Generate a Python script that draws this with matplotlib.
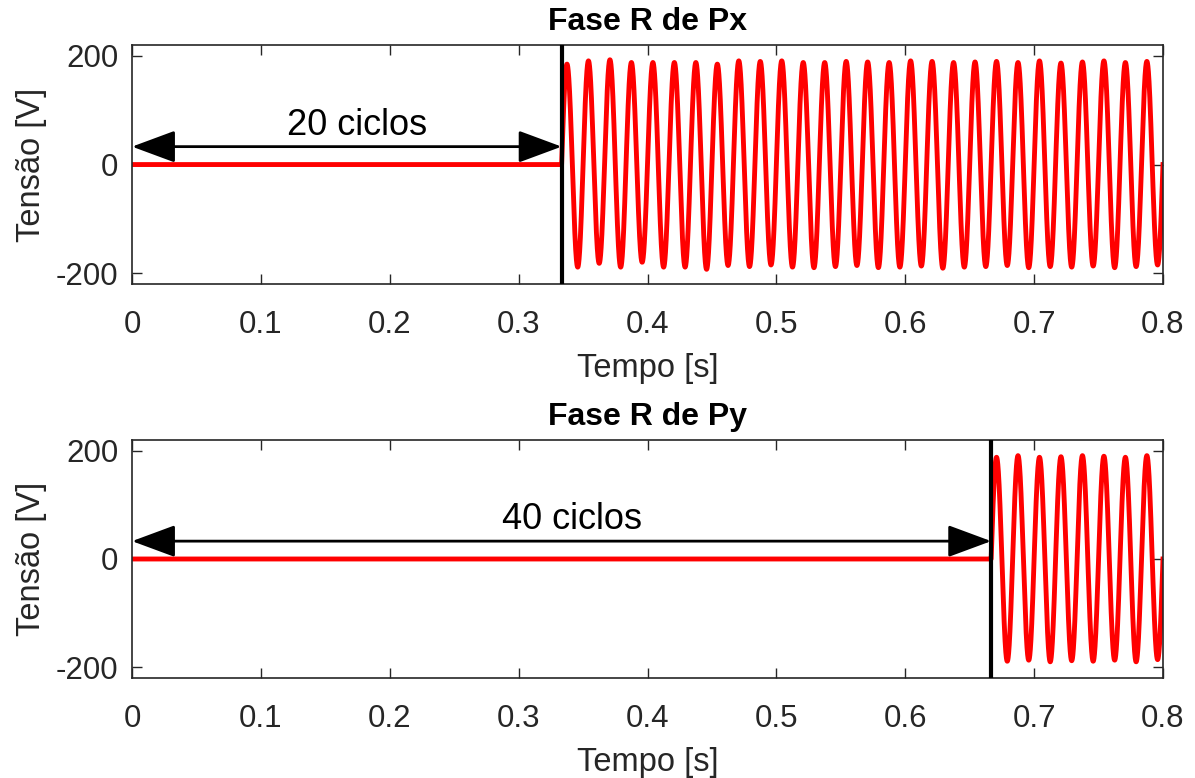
import numpy as np
import matplotlib.pyplot as plt

plt.rcParams['font.family'] = ['Liberation Sans', 'DejaVu Sans']
plt.rcParams['axes.unicode_minus'] = False

# dados
f_rede = 60.0          # Hz
t_fim = 0.8            # s
ciclos_px = 20         # atraso de Px em ciclos
ciclos_py = 40         # atraso de Py em ciclos
# picos positivos / negativos de cada ciclo apos a entrada [V]
pico_pos_px = [185, 191, 193, 188, 188, 188, 188, 185, 191, 190, 191, 188, 188, 190,
               189, 188, 191, 190, 188, 189, 190, 188, 191, 187, 189, 191, 188, 190]
pico_neg_px = [189, 182, 189, 180, 189, 189, 193, 186, 188, 185, 189, 190, 188, 186,
               190, 189, 187, 191, 189, 188, 186, 190, 188, 189, 187, 190, 188, 185]
pico_pos_py = [188, 191, 188, 189, 191, 190, 188, 191]
pico_neg_py = [189, 187, 190, 188, 189, 187, 190, 186]

titulos = ['Fase R de Px', 'Fase R de Py']
rotulos = ['20 ciclos', '40 ciclos']


def sinal(ciclos_atraso, pico_pos, pico_neg, n=20000):
    t = np.linspace(0, t_fim, n)
    t0 = ciclos_atraso / f_rede
    fase = (t - t0) * f_rede
    k = np.clip(np.floor(fase).astype(int), 0, len(pico_pos) - 1)
    s = np.sin(2 * np.pi * fase)
    amp = np.where(s >= 0, np.array(pico_pos)[k], np.array(pico_neg)[k])
    v = np.where(t >= t0, amp * s, 0.0)
    return t, v, t0


fig = plt.figure(figsize=(11.95, 7.78), dpi=100)
posicoes = [[0.1105, 0.635, 0.8627, 0.307], [0.1105, 0.1285, 0.8627, 0.306]]
dados = [(ciclos_px, pico_pos_px, pico_neg_px), (ciclos_py, pico_pos_py, pico_neg_py)]
cor_eixo = '#262626'

for pos, (cic, pp, pn), titulo, rot in zip(posicoes, dados, titulos, rotulos):
    ax = fig.add_axes(pos)
    t, v, t0 = sinal(cic, pp, pn)
    ax.plot(t, v, color='red', lw=3.5, zorder=2)
    ax.axvline(t0, color='black', lw=3, zorder=3)
    ax.annotate('', xy=(0, 33), xytext=(t0, 33),
                arrowprops=dict(arrowstyle='<|-|>,head_length=2.7,head_width=1.0',
                                color='black', lw=2, mutation_scale=10,
                                shrinkA=0, shrinkB=0), zorder=4)
    ax.text(t0 / 2 + 0.008, 55, rot, ha='center', va='baseline', fontsize=26)
    ax.set_xlim(0, t_fim)
    ax.set_ylim(-220, 220)
    ax.set_xticks(np.arange(0, 0.81, 0.1))
    ax.set_xticklabels(['0', '0.1', '0.2', '0.3', '0.4', '0.5', '0.6', '0.7', '0.8'])
    ax.set_yticks([-200, 0, 200])
    ax.tick_params(direction='in', length=7, width=1, top=True, right=True,
                   labelsize=22.5, colors=cor_eixo)
    ax.tick_params(axis='x', pad=19)
    ax.tick_params(axis='y', pad=10)
    for s in ax.spines.values():
        s.set_color(cor_eixo)
        s.set_linewidth(1.2)
    ax.set_xlabel('Tempo [s]', fontsize=23.5, color=cor_eixo, labelpad=9)
    ax.set_ylabel('Tensão [V]', fontsize=23.5, color=cor_eixo, labelpad=6)
    ax.set_title(titulo, fontsize=23, fontweight='bold', pad=11)

fig.savefig('out.png', dpi=100)
